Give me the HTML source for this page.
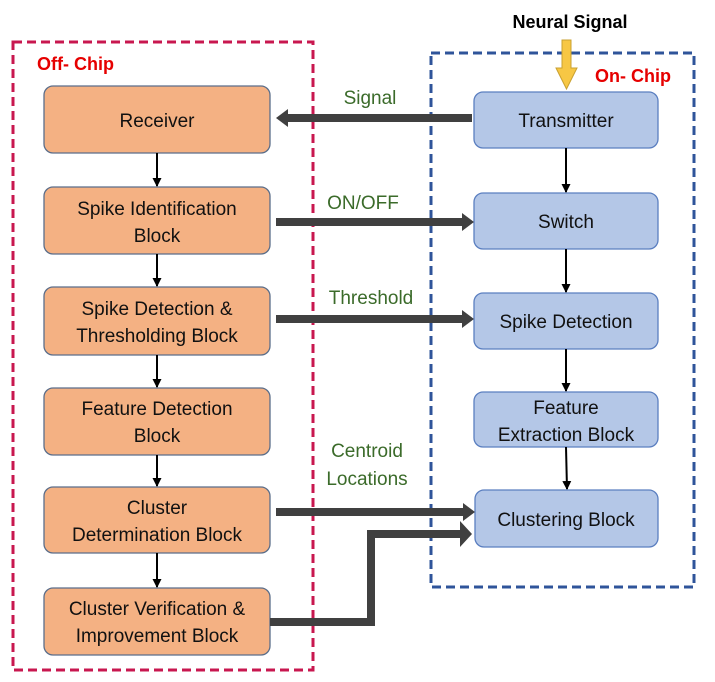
<!DOCTYPE html>
<html><head><meta charset="utf-8"><style>
html,body{margin:0;padding:0;background:#fff;width:715px;height:682px;overflow:hidden}
text{font-family:"Liberation Sans",sans-serif}
</style></head><body>
<svg width="715" height="682" viewBox="0 0 715 682" xmlns="http://www.w3.org/2000/svg">
<defs>
<marker id="ah" markerWidth="9" markerHeight="9" refX="8" refY="4.5" orient="auto" markerUnits="userSpaceOnUse"><path d="M0,0 L9,4.5 L0,9 z" fill="#000"/></marker>
</defs>
<rect x="13" y="42" width="300" height="628" fill="none" stroke="#c8174f" stroke-width="3" stroke-dasharray="9,5"/>
<rect x="431" y="53" width="263" height="534" fill="none" stroke="#2f549a" stroke-width="3" stroke-dasharray="9,5"/>
<text x="37" y="70" font-size="18" font-weight="bold" fill="#e60000">Off- Chip</text>
<text x="595" y="82" font-size="18" font-weight="bold" fill="#e60000">On- Chip</text>
<text x="570" y="28" font-size="18" font-weight="bold" fill="#000" text-anchor="middle">Neural Signal</text>
<path d="M562,40 h9 v28 h6 l-10.5,21 l-10.5,-21 h6 z" fill="#f7c744" stroke="#c9a030" stroke-width="1"/>
<g fill="#f4b183" stroke="#5b6e8a" stroke-width="1.3">
<rect x="44" y="86" width="226" height="67" rx="9"/>
<rect x="44" y="187" width="226" height="67" rx="9"/>
<rect x="44" y="287" width="226" height="68" rx="9"/>
<rect x="44" y="388" width="226" height="67" rx="9"/>
<rect x="44" y="487" width="226" height="66" rx="9"/>
<rect x="44" y="588" width="226" height="67" rx="9"/>
</g>
<g fill="#b4c7e7" stroke="#5b7fc0" stroke-width="1.3">
<rect x="474" y="92" width="184" height="56" rx="9"/>
<rect x="474" y="193" width="184" height="56" rx="9"/>
<rect x="474" y="293" width="184" height="56" rx="9"/>
<rect x="474" y="392" width="184" height="55" rx="9"/>
<rect x="475" y="490" width="183" height="57" rx="9"/>
</g>
<g font-size="19" fill="#111" text-anchor="middle">
<text x="157" y="127">Receiver</text>
<text x="157" y="215">Spike Identification</text>
<text x="157" y="242">Block</text>
<text x="157" y="315">Spike Detection &amp;</text>
<text x="157" y="342">Thresholding Block</text>
<text x="157" y="415">Feature Detection</text>
<text x="157" y="442">Block</text>
<text x="157" y="514">Cluster</text>
<text x="157" y="541">Determination Block</text>
<text x="157" y="615">Cluster Verification &amp;</text>
<text x="157" y="642">Improvement Block</text>
<text x="566" y="127">Transmitter</text>
<text x="566" y="228">Switch</text>
<text x="566" y="328">Spike Detection</text>
<text x="566" y="414">Feature</text>
<text x="566" y="441">Extraction Block</text>
<text x="566" y="526">Clustering Block</text>
</g>
<g stroke="#000" stroke-width="2" marker-end="url(#ah)">
<line x1="157" y1="153" x2="157" y2="186"/>
<line x1="157" y1="254" x2="157" y2="286"/>
<line x1="157" y1="355" x2="157" y2="387"/>
<line x1="157" y1="455" x2="157" y2="486"/>
<line x1="157" y1="553" x2="157" y2="587"/>
<line x1="566" y1="148" x2="566" y2="192"/>
<line x1="566" y1="249" x2="566" y2="292"/>
<line x1="566" y1="349" x2="566" y2="391"/>
<line x1="566" y1="447" x2="567" y2="489"/>
</g>
<g fill="#404040">
<rect x="287" y="114" width="185" height="8"/><path d="M276,118 l12,-9 v18 z"/>
<rect x="276" y="218" width="186" height="8"/><path d="M474,222 l-12,-9 v18 z"/>
<rect x="276" y="315" width="186" height="8"/><path d="M474,319 l-12,-9 v18 z"/>
<rect x="276" y="508" width="187" height="8"/><path d="M475,512 l-12,-9 v18 z"/>
<path d="M270,618 h97 v-88 h93 v-9 l12,13 l-12,13 v-9 h-85 v88 h-105 z"/>
</g>
<g font-size="19" fill="#3b6b2a" text-anchor="middle">
<text x="370" y="104">Signal</text>
<text x="363" y="209">ON/OFF</text>
<text x="371" y="304">Threshold</text>
<text x="367" y="457">Centroid</text>
<text x="367" y="485">Locations</text>
</g>
</svg>
</body></html>
